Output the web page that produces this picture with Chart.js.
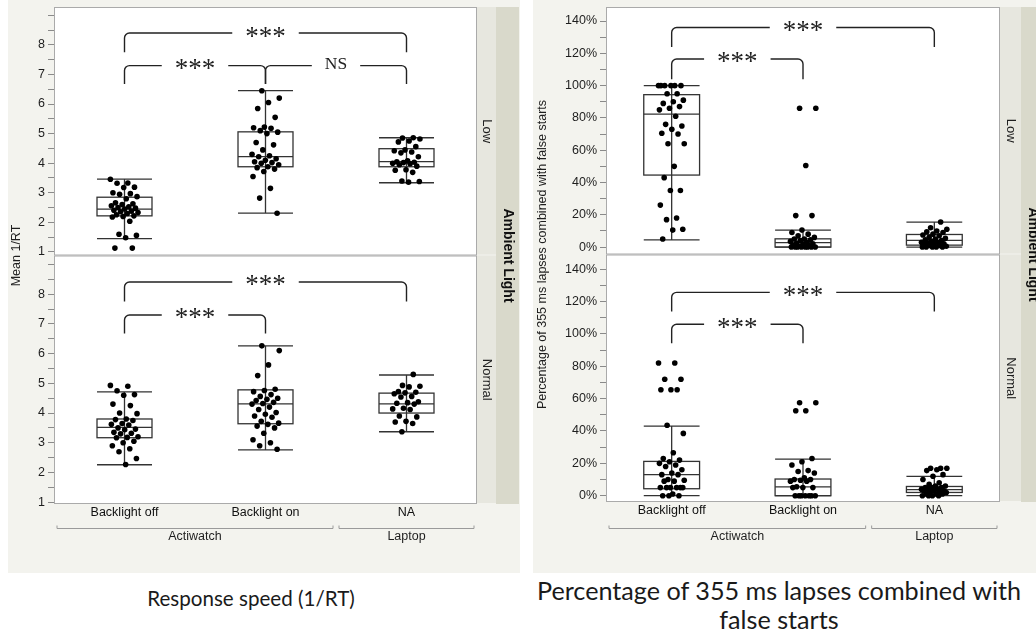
<!DOCTYPE html>
<html><head><meta charset="utf-8">
<script src="https://cdn.jsdelivr.net/npm/chart.js@4.4.1/dist/chart.umd.min.js"></script>
<style>
html,body{margin:0;padding:0;background:#fff;width:1036px;height:637px;overflow:hidden;position:relative}
#c1{position:absolute;left:8px;top:0}
#c2{position:absolute;left:533px;top:0}
.title{position:absolute;font-family:Lato,'Open Sans',sans-serif;color:#1a1a1a;text-align:center;white-space:nowrap}
</style></head><body>
<canvas id="c1" width="512" height="573"></canvas>
<canvas id="c2" width="503" height="573"></canvas>
<div class="title" style="left:100px;width:302px;top:585px;font-size:20.6px;line-height:26px">Response speed (1/RT)</div>
<div class="title" style="left:500px;width:558px;top:576px;font-size:25.2px;line-height:29px">Percentage of 355 ms lapses combined with<br>false starts</div>
<script>
// ---------- categories & labels ----------
const CATEGORIES = ['Backlight off', 'Backlight on', 'NA'];
const GROUPS = ['Actiwatch', 'Laptop'];
const GROUP_SPANS = [[0, 1], [2, 2]];
const PANELS = ['Low', 'Normal'];
const FACET_TITLE = 'Ambient Light';
const RT_TITLE = 'Mean 1/RT';
const PCT_TITLE = 'Percentage of 355 ms lapses combined with false starts';

const RT_TICKS = [1, 1.5, 2, 2.5, 3, 3.5, 4, 4.5, 5, 5.5, 6, 6.5, 7, 7.5, 8, 8.5, 9];
const RT_TICK_LABELS = ['1', '', '2', '', '3', '', '4', '', '5', '', '6', '', '7', '', '8', '', ''];
const PCT_TICKS = [0, 10, 20, 30, 40, 50, 60, 70, 80, 90, 100, 110, 120, 130, 140];
const PCT_TICK_LABELS = ['0%', '', '20%', '', '40%', '', '60%', '', '80%', '', '100%', '', '120%', '', '140%'];

// ---------- individual values (response speed, 1/RT) ----------
const RT_LOW_OFF = [3.46, 3.33, 3.32, 3.19, 3.18, 3.0, 2.97, 2.95, 2.87, 2.8, 2.66, 2.63, 2.6, 2.56, 2.53, 2.5, 2.48, 2.45, 2.41, 2.38, 2.36, 2.33, 2.3, 2.26, 2.22, 2.2, 2.18, 2.04, 1.6, 1.56, 1.48, 1.13, 1.13];
const RT_LOW_ON = [6.45, 6.2, 6.05, 5.85, 5.55, 5.22, 5.2, 5.18, 5.1, 5.05, 5.0, 4.7, 4.62, 4.45, 4.3, 4.25, 4.22, 4.15, 4.1, 4.05, 4.02, 4.0, 3.95, 3.88, 3.85, 3.8, 3.72, 3.55, 3.15, 2.82, 2.31];
const RT_LOW_NA = [4.86, 4.85, 4.82, 4.75, 4.72, 4.56, 4.45, 4.42, 4.38, 4.35, 4.22, 4.08, 4.05, 4.03, 4.02, 4.0, 3.98, 3.95, 3.9, 3.78, 3.76, 3.69, 3.4, 3.38, 3.36];
const RT_NORM_OFF = [4.93, 4.9, 4.75, 4.62, 4.6, 4.3, 4.25, 4.0, 3.98, 3.8, 3.78, 3.75, 3.65, 3.62, 3.6, 3.5, 3.46, 3.44, 3.35, 3.32, 3.3, 3.2, 3.18, 3.17, 3.05, 3.0, 2.9, 2.8, 2.7, 2.47, 2.27];
const RT_NORM_ON = [6.26, 6.1, 5.62, 5.26, 4.8, 4.76, 4.72, 4.62, 4.56, 4.5, 4.46, 4.42, 4.36, 4.32, 4.3, 4.2, 4.12, 4.02, 3.96, 3.9, 3.86, 3.72, 3.66, 3.62, 3.56, 3.5, 3.32, 3.1, 3.0, 2.9, 2.78];
const RT_NORM_NA = [5.3, 4.93, 4.9, 4.88, 4.72, 4.7, 4.68, 4.65, 4.56, 4.54, 4.38, 4.35, 4.33, 4.3, 4.16, 4.14, 4.12, 3.9, 3.87, 3.72, 3.7, 3.65, 3.37];

// ---------- individual values (% lapses + false starts) ----------
const PCT_LOW_OFF = [100, 100, 100, 100, 100, 100, 95, 95, 91, 90, 89, 87, 86, 85, 81, 76, 75, 73, 70.5, 70, 64, 64, 50, 43, 35, 35, 26, 18, 17, 11, 10.5, 5];
const PCT_LOW_ON = [86, 86, 50.5, 19.5, 19.5, 10.5, 9, 8, 7, 6, 5, 5, 4.5, 4, 3.5, 3, 2.5, 2, 1.5, 1, 1, 0.5, 0, 0, 0, 0, 0, 0, 0, 0];
const PCT_LOW_NA = [15.5, 12, 11, 10, 9.5, 9, 8, 7.5, 7, 6, 5.5, 5, 4.5, 4, 3.5, 3, 3, 2.5, 2, 2, 1.5, 1, 1, 0.5, 0, 0, 0, 0, 0];
const PCT_NORM_OFF = [82, 82, 72, 72, 65.5, 65.5, 65.5, 43.5, 38.5, 26.5, 23, 22, 21, 20, 19, 18, 16, 14, 13, 13, 10, 9.5, 9, 9, 5, 5, 5, 5, 5, 5, 1, 0, 0, 0];
const PCT_NORM_ON = [57.5, 57.5, 52.5, 52.5, 23, 21, 19, 15.5, 15, 14, 11, 10, 10, 9.5, 9, 9, 5.5, 5, 5, 5, 0, 0, 0, 0, 0, 0, 0];
const PCT_NORM_NA = [17, 17, 17, 16, 15.5, 13, 12, 10, 8, 7, 6, 6, 5, 5, 5, 4, 4, 4, 3, 3, 3, 2, 2, 2, 1, 1, 1, 0, 0, 0, 0];

// ---------- box statistics: [lower whisker, Q1, median, Q3, upper whisker] ----------
const RT_LOW_BOX = [[1.45, 2.22, 2.45, 2.85, 3.46], [2.31, 3.88, 4.22, 5.06, 6.45], [3.34, 3.88, 4.05, 4.49, 4.86]];
const RT_NORM_BOX = [[2.26, 3.17, 3.52, 3.8, 4.71], [2.76, 3.64, 4.31, 4.78, 6.26], [3.37, 4.0, 4.31, 4.67, 5.28]];
const PCT_LOW_BOX = [[4.5, 44.6, 82.3, 94.4, 100], [0, 0, 2.8, 5.1, 10.5], [0, 1.2, 4.1, 7.8, 15.4]];
const PCT_NORM_BOX = [[0, 4.3, 13, 21.2, 43], [0, 0, 5.4, 10.3, 22.6], [0, 2, 3.7, 5.7, 11.9]];

// ---------- significance brackets: [from category, to category, bar value, end value, label] ----------
const RT_LOW_BRACKETS = [[0, 2, 8.4, 7.75, '***'], [0, 1, 7.3, 6.68, '***'], [1, 2, 7.3, 6.68, 'NS']];
const RT_NORM_BRACKETS = [[0, 2, 8.41, 7.75, '***'], [0, 1, 7.3, 6.68, '***']];
const PCT_LOW_BRACKETS = [[0, 2, 136, 124, '***'], [0, 1, 116.5, 104, '***']];
const PCT_NORM_BRACKETS = [[0, 2, 125.7, 113.8, '***'], [0, 1, 106, 94.2, '***']];

// ---------- rendering ----------
const SANS = "'Liberation Sans', Arial, sans-serif";
const SERIF = "'Liberation Serif', 'Times New Roman', serif";

function jitter(i, c) {
  const f = (i * 0.6180339887 + c * 0.37) % 1;
  return (f - 0.5) * 0.2;
}

function makePlugin(cfg) {
  return {
    id: 'facet',
    beforeDraw(chart) {
      const {ctx, chartArea: a, width, height} = chart;
      ctx.save();
      ctx.fillStyle = '#f3f3ee';
      ctx.fillRect(0, 0, width, height);
      ctx.fillStyle = '#ffffff';
      ctx.fillRect(a.left, a.top, a.right - a.left, a.bottom - a.top);
      ctx.restore();
    },
    beforeDatasetsDraw(chart) {
      const ctx = chart.ctx, xs = chart.scales.x;
      ctx.save();
      ctx.strokeStyle = '#333';
      ctx.lineWidth = 1.3;
      cfg.panels.forEach(p => {
        const ys = chart.scales[p.axis];
        p.boxes.forEach((b, c) => {
          const cx = xs.getPixelForValue(c);
          const hw = (xs.getPixelForValue(c + cfg.boxWidth / 2) - xs.getPixelForValue(c - cfg.boxWidth / 2)) / 2;
          const [lo, q1, med, q3, hi] = b.map(v => ys.getPixelForValue(v));
          ctx.beginPath();
          ctx.moveTo(cx, lo); ctx.lineTo(cx, hi);
          ctx.moveTo(cx - hw, lo); ctx.lineTo(cx + hw, lo);
          ctx.moveTo(cx - hw, hi); ctx.lineTo(cx + hw, hi);
          ctx.moveTo(cx - hw, med); ctx.lineTo(cx + hw, med);
          ctx.stroke();
          ctx.strokeRect(cx - hw, q3, 2 * hw, q1 - q3);
        });
      });
      ctx.restore();
    },
    afterDatasetsDraw(chart) {
      const ctx = chart.ctx, xs = chart.scales.x;
      ctx.save();
      ctx.strokeStyle = '#222';
      ctx.fillStyle = '#222';
      ctx.lineWidth = 1.4;
      cfg.panels.forEach(p => {
        const ys = chart.scales[p.axis];
        p.brackets.forEach(([c0, c1, lv, dv, label]) => {
          const x0 = xs.getPixelForValue(c0), x1 = xs.getPixelForValue(c1);
          const y = ys.getPixelForValue(lv), yd = ys.getPixelForValue(dv);
          const isNS = label === 'NS';
          ctx.font = isNS ? `17.5px ${SERIF}` : `27px ${SERIF}`;
          const tw = ctx.measureText(label).width;
          const mid = (x0 + x1) / 2, g = tw / 2 + 13, r = 5;
          ctx.beginPath();
          ctx.moveTo(x0, yd); ctx.lineTo(x0, y + r); ctx.arcTo(x0, y, x0 + r, y, r); ctx.lineTo(mid - g, y);
          ctx.moveTo(mid + g, y); ctx.lineTo(x1 - r, y); ctx.arcTo(x1, y, x1, y + r, r); ctx.lineTo(x1, yd);
          ctx.stroke();
          ctx.textAlign = 'center';
          ctx.textBaseline = 'alphabetic';
          ctx.fillText(label, mid, y + (isNS ? 3 : 11.5));
        });
      });
      ctx.restore();
    },
    afterDraw(chart) {
      const ctx = chart.ctx, a = chart.chartArea, xs = chart.scales.x;
      ctx.save();
      cfg.panels.forEach((p, pi) => {
        const ys = chart.scales[p.axis];
        ctx.strokeStyle = '#aaaaaa';
        ctx.lineWidth = 1;
        ctx.strokeRect(a.left + 0.5, ys.top + 0.5, a.right - a.left - 1, ys.bottom - ys.top - 1);
        ctx.fillStyle = '#e7e7df';
        ctx.fillRect(a.right, ys.top, cfg.strip1, ys.bottom - ys.top - 1);
        ctx.fillStyle = '#1e1e1e';
        ctx.font = `13px ${SANS}`;
        ctx.save();
        ctx.translate(a.right + cfg.strip1 / 2, (ys.top + ys.bottom) / 2);
        ctx.rotate(Math.PI / 2);
        ctx.textAlign = 'center'; ctx.textBaseline = 'middle';
        ctx.fillText(PANELS[pi], 0, 0);
        ctx.restore();
      });
      ctx.fillStyle = '#d9d9cb';
      ctx.fillRect(a.right + cfg.strip1, a.top, cfg.strip2, a.bottom - a.top);
      ctx.fillStyle = '#111';
      ctx.font = `bold 14px ${SANS}`;
      ctx.save();
      ctx.translate(a.right + cfg.strip1 + 11.5, (a.top + a.bottom) / 2);
      ctx.rotate(Math.PI / 2);
      ctx.textAlign = 'center'; ctx.textBaseline = 'middle';
      ctx.fillText(FACET_TITLE, 0, 0);
      ctx.restore();
      ctx.fillStyle = '#1e1e1e';
      ctx.font = `12.5px ${SANS}`;
      ctx.save();
      ctx.translate(cfg.titleX, (a.top + a.bottom) / 2);
      ctx.rotate(-Math.PI / 2);
      ctx.textAlign = 'center'; ctx.textBaseline = 'middle';
      ctx.fillText(cfg.yTitle, 0, 0);
      ctx.restore();
      ctx.strokeStyle = '#9a9a9a';
      ctx.lineWidth = 1;
      GROUP_SPANS.forEach(([c0, c1], gi) => {
        const l = xs.getPixelForValue(c0 - 0.5) + 2.5, r = xs.getPixelForValue(c1 + 0.5) - 2.5;
        const y = cfg.groupLineY + 0.5;
        ctx.beginPath();
        ctx.moveTo(l + 0.5, y - 3); ctx.lineTo(l + 0.5, y); ctx.lineTo(r - 0.5, y); ctx.lineTo(r - 0.5, y - 3);
        ctx.stroke();
        ctx.textAlign = 'center'; ctx.textBaseline = 'middle';
        ctx.fillText(GROUPS[gi], (l + r) / 2, cfg.groupLabelY);
      });
      ctx.restore();
    }
  };
}

function makeChart(id, cfg) {
  const datasets = [];
  cfg.panels.forEach(p => p.values.forEach((vals, c) => {
    datasets.push({
      type: 'scatter', yAxisID: p.axis,
      data: vals.map((v, i) => ({x: c + jitter(i, c), y: v})),
      backgroundColor: '#000', borderWidth: 0, pointRadius: 2.8, pointHoverRadius: 2.8
    });
  }));
  const zeroPad = s => { s.paddingTop = 0; s.paddingBottom = 0; s.paddingLeft = 0; s.paddingRight = 0; };
  const yScale = (p) => ({
    type: 'linear', position: 'left', stack: 'panels', stackWeight: 1,
    min: p.min, max: p.max,
    afterBuildTicks: s => { s.ticks = cfg.ticks.map(v => ({value: v})); },
    ticks: {
      autoSkip: false, padding: 3, color: '#1e1e1e',
      font: {family: SANS, size: 12.5},
      callback: v => { const k = cfg.ticks.indexOf(v); return k >= 0 ? cfg.tickLabels[k] : ''; }
    },
    grid: {drawOnChartArea: false, drawTicks: true, tickLength: 6, color: '#8a8a8a', tickColor: '#8a8a8a', lineWidth: 1},
    border: {display: false},
    afterFit: s => { s.width = cfg.yAxisW; zeroPad(s); }
  });
  const scales = {
    x: {
      type: 'linear', position: 'bottom', min: -0.5, max: 2.5,
      afterBuildTicks: s => { s.ticks = CATEGORIES.map((_, i) => ({value: i})); },
      ticks: {autoSkip: false, maxRotation: 0, padding: 1, color: '#111', font: {family: SANS, size: 12.5},
        callback: v => CATEGORIES[v] !== undefined ? CATEGORIES[v] : ''},
      grid: {display: false, drawTicks: false},
      border: {display: false},
      afterFit: s => { s.height = cfg.xAxisH; zeroPad(s); }
    }
  };
  scales[cfg.panels[1].axis] = yScale(cfg.panels[1]);
  scales[cfg.panels[0].axis] = yScale(cfg.panels[0]);
  return new Chart(document.getElementById(id), {
    type: 'scatter',
    data: {datasets},
    options: {
      responsive: false, animation: false, devicePixelRatio: 1, events: [],
      layout: {padding: {top: 7, right: cfg.padRight, left: 0, bottom: 0}},
      plugins: {legend: {display: false}, tooltip: {enabled: false}},
      scales
    },
    plugins: [makePlugin(cfg)]
  });
}

makeChart('c1', {
  yTitle: RT_TITLE, ticks: RT_TICKS, tickLabels: RT_TICK_LABELS,
  yAxisW: 46, xAxisH: 69, padRight: 43, strip1: 19, strip2: 23, titleX: 9,
  groupLineY: 528, groupLabelY: 537, boxWidth: 0.39,
  panels: [
    {axis: 'yLow', min: 0.88, max: 9.28, values: [RT_LOW_OFF, RT_LOW_ON, RT_LOW_NA], boxes: RT_LOW_BOX, brackets: RT_LOW_BRACKETS},
    {axis: 'yNorm', min: 0.94, max: 9.30, values: [RT_NORM_OFF, RT_NORM_ON, RT_NORM_NA], boxes: RT_NORM_BOX, brackets: RT_NORM_BRACKETS}
  ]
});

makeChart('c2', {
  yTitle: PCT_TITLE, ticks: PCT_TICKS, tickLabels: PCT_TICK_LABELS,
  yAxisW: 73, xAxisH: 71, padRight: 36, strip1: 21, strip2: 23, titleX: 10,
  groupLineY: 528, groupLabelY: 537, boxWidth: 0.425,
  panels: [
    {axis: 'yLow', min: -4.6, max: 148.7, values: [PCT_LOW_OFF, PCT_LOW_ON, PCT_LOW_NA], boxes: PCT_LOW_BOX, brackets: PCT_LOW_BRACKETS},
    {axis: 'yNorm', min: -3.9, max: 149.1, values: [PCT_NORM_OFF, PCT_NORM_ON, PCT_NORM_NA], boxes: PCT_NORM_BOX, brackets: PCT_NORM_BRACKETS}
  ]
});
</script>
</body></html>
